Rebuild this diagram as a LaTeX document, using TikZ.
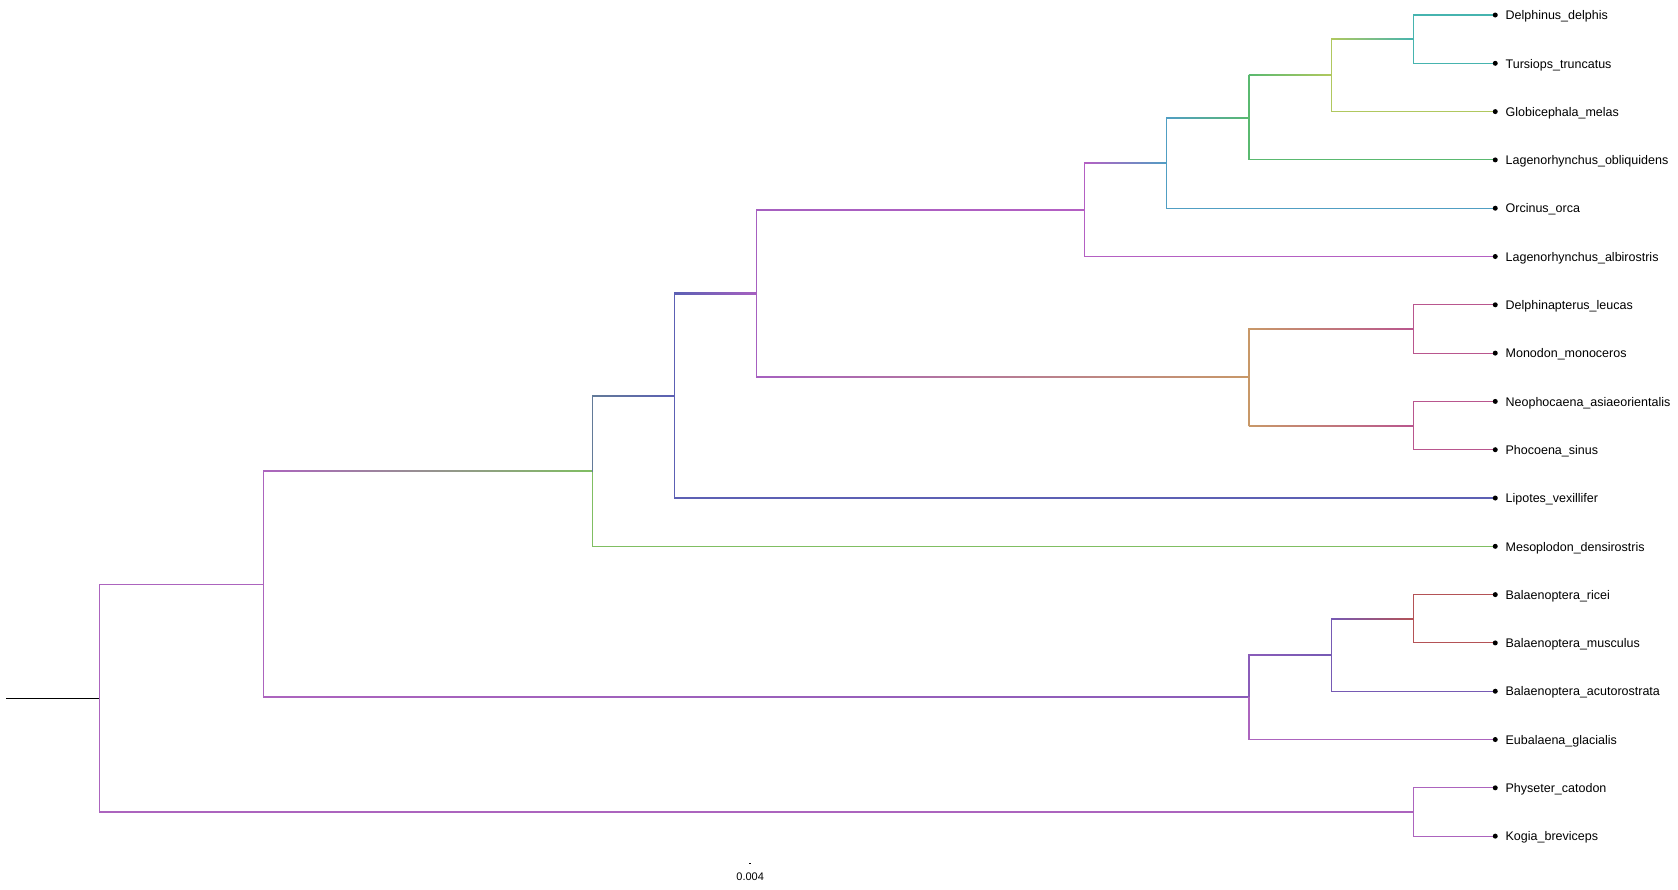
\documentclass[tikz,border=0pt]{standalone}
\usepackage{fontspec}
\setmainfont{Liberation Sans}
\usepackage{xcolor}
\usepackage{tikz}
\usetikzlibrary{calc, backgrounds}
\definecolor{cladepurple}{RGB}{172, 100, 190}
\definecolor{cladeindigo}{RGB}{138, 92, 185}
\definecolor{cladeviolet}{RGB}{118, 90, 180}
\definecolor{claderust}{RGB}{180, 82, 86}
\definecolor{cladegreen}{RGB}{128, 190, 98}
\definecolor{cladeslate}{RGB}{98, 122, 152}
\definecolor{cladeblue}{RGB}{92, 96, 180}
\definecolor{clademauve}{RGB}{166, 96, 192}
\definecolor{clademagenta}{RGB}{180, 96, 195}
\definecolor{cladesky}{RGB}{80, 158, 195}
\definecolor{cladejade}{RGB}{90, 185, 112}
\definecolor{cladeolive}{RGB}{176, 200, 94}
\definecolor{cladeteal}{RGB}{70, 180, 175}
\definecolor{cladetan}{RGB}{200, 152, 104}
\definecolor{cladepink}{RGB}{185, 86, 142}

% elbow from parent #1 to child #2, colour running from #3 to #4
\newcommand{\treebranch}[4]{%
  \draw[edge, draw=#3] (#1) -- (#1 |- #2);
  \def\fromcol{#3}\def\tocol{#4}%
  \ifx\fromcol\tocol
    \draw[edge, draw=#3] (#1 |- #2) -- (#2);
  \else
    \shade[left color=#3, right color=#4] ($(#1 |- #2)+(0,0.55pt)$) rectangle ($(#2)+(0,-0.55pt)$);
  \fi
}

\begin{document}
\begin{tikzpicture}[
    x=82.1pt, y=-48.3pt,
    edge/.style={line width=1.1pt, line cap=rect},
    tip/.style={circle, fill=black, inner sep=0pt, minimum size=5pt},
    taxon/.style={font=\fontsize{12.5}{15}\selectfont, inner sep=0pt, anchor=base west, xshift=7.5pt, yshift=-4.7pt},
    scalelabel/.style={font=\fontsize{11}{13}\selectfont, inner sep=0pt}
]
    \useasboundingbox (-1.212,-0.3106) rectangle (19.226,18.095);

    \node[tip, label={[taxon]right:Delphinus\_delphis}] (delphinus) at (17,0) {};
    \node[tip, label={[taxon]right:Tursiops\_truncatus}] (tursiops) at (17,1) {};
    \node[tip, label={[taxon]right:Globicephala\_melas}] (globicephala) at (17,2) {};
    \node[tip, label={[taxon]right:Lagenorhynchus\_obliquidens}] (obliquidens) at (17,3) {};
    \node[tip, label={[taxon]right:Orcinus\_orca}] (orcinus) at (17,4) {};
    \node[tip, label={[taxon]right:Lagenorhynchus\_albirostris}] (albirostris) at (17,5) {};
    \node[tip, label={[taxon]right:Delphinapterus\_leucas}] (delphinapterus) at (17,6) {};
    \node[tip, label={[taxon]right:Monodon\_monoceros}] (monodon) at (17,7) {};
    \node[tip, label={[taxon]right:Neophocaena\_asiaeorientalis}] (neophocaena) at (17,8) {};
    \node[tip, label={[taxon]right:Phocoena\_sinus}] (phocoena) at (17,9) {};
    \node[tip, label={[taxon]right:Lipotes\_vexillifer}] (lipotes) at (17,10) {};
    \node[tip, label={[taxon]right:Mesoplodon\_densirostris}] (mesoplodon) at (17,11) {};
    \node[tip, label={[taxon]right:Balaenoptera\_ricei}] (ricei) at (17,12) {};
    \node[tip, label={[taxon]right:Balaenoptera\_musculus}] (musculus) at (17,13) {};
    \node[tip, label={[taxon]right:Balaenoptera\_acutorostrata}] (acutorostrata) at (17,14) {};
    \node[tip, label={[taxon]right:Eubalaena\_glacialis}] (eubalaena) at (17,15) {};
    \node[tip, label={[taxon]right:Physeter\_catodon}] (physeter) at (17,16) {};
    \node[tip, label={[taxon]right:Kogia\_breviceps}] (kogia) at (17,17) {};

    \coordinate (delphininae) at (16,0.5);
    \coordinate (globiclade) at (15,1.25);
    \coordinate (obliclade) at (14,2.125);
    \coordinate (orcaclade) at (13,3.0625);
    \coordinate (delphinidae) at (12,4.03125);
    \coordinate (monodontidae) at (16,6.5);
    \coordinate (phocoenidae) at (16,8.5);
    \coordinate (phocmono) at (14,7.5);
    \coordinate (delphinoidea) at (8,5.765625);
    \coordinate (lipotesclade) at (7,7.8828);
    \coordinate (odontoclade) at (6,9.4414);
    \coordinate (bluewhales) at (16,12.5);
    \coordinate (balaenoptera) at (15,13.25);
    \coordinate (mysticeti) at (14,14.125);
    \coordinate (mainclade) at (2,11.7832);
    \coordinate (physeteroidea) at (16,16.5);
    \coordinate (rootnode) at (0,14.1416);
    \coordinate (rootstem) at (-1.134,14.1416);

    \begin{scope}[on background layer]
        \draw[edge, black] (rootstem) -- (rootnode);
        \treebranch{rootnode}{mainclade}{cladepurple}{cladepurple}
        \treebranch{rootnode}{physeteroidea}{cladepurple}{cladepurple}
        \treebranch{physeteroidea}{physeter}{cladepurple}{cladepurple}
        \treebranch{physeteroidea}{kogia}{cladepurple}{cladepurple}

        \treebranch{mainclade}{mysticeti}{cladepurple}{cladeindigo}
        \treebranch{mysticeti}{balaenoptera}{cladeindigo}{cladeviolet}
        \treebranch{mysticeti}{eubalaena}{cladepurple}{cladepurple}
        \treebranch{balaenoptera}{bluewhales}{cladeviolet}{claderust}
        \treebranch{balaenoptera}{acutorostrata}{cladeviolet}{cladeviolet}
        \treebranch{bluewhales}{ricei}{claderust}{claderust}
        \treebranch{bluewhales}{musculus}{claderust}{claderust}

        \treebranch{mainclade}{odontoclade}{cladepurple}{cladegreen}
        \treebranch{odontoclade}{mesoplodon}{cladegreen}{cladegreen}
        \treebranch{odontoclade}{lipotesclade}{cladeslate}{cladeblue}
        \treebranch{lipotesclade}{lipotes}{cladeblue}{cladeblue}
        \treebranch{lipotesclade}{delphinoidea}{cladeblue}{clademauve}

        \treebranch{delphinoidea}{phocmono}{clademauve}{cladetan}
        \treebranch{phocmono}{monodontidae}{cladetan}{cladepink}
        \treebranch{phocmono}{phocoenidae}{cladetan}{cladepink}
        \treebranch{monodontidae}{delphinapterus}{cladepink}{cladepink}
        \treebranch{monodontidae}{monodon}{cladepink}{cladepink}
        \treebranch{phocoenidae}{neophocaena}{cladepink}{cladepink}
        \treebranch{phocoenidae}{phocoena}{cladepink}{cladepink}

        \treebranch{delphinoidea}{delphinidae}{clademauve}{clademagenta}
        \treebranch{delphinidae}{albirostris}{clademagenta}{clademagenta}
        \treebranch{delphinidae}{orcaclade}{clademagenta}{cladesky}
        \treebranch{orcaclade}{orcinus}{cladesky}{cladesky}
        \treebranch{orcaclade}{obliclade}{cladesky}{cladejade}
        \treebranch{obliclade}{obliquidens}{cladejade}{cladejade}
        \treebranch{obliclade}{globiclade}{cladejade}{cladeolive}
        \treebranch{globiclade}{globicephala}{cladeolive}{cladeolive}
        \treebranch{globiclade}{delphininae}{cladeolive}{cladeteal}
        \treebranch{delphininae}{delphinus}{cladeteal}{cladeteal}
        \treebranch{delphininae}{tursiops}{cladeteal}{cladeteal}
    \end{scope}

    \coordinate (scaleleft) at (7.915,17.557);
    \coordinate (scaleright) at (7.935,17.557);
    \draw[line width=0.8pt] (scaleleft) -- (scaleright);
    \node[scalelabel] (scaletext) at (7.925,17.847) {0.004};
\end{tikzpicture}
\end{document}
